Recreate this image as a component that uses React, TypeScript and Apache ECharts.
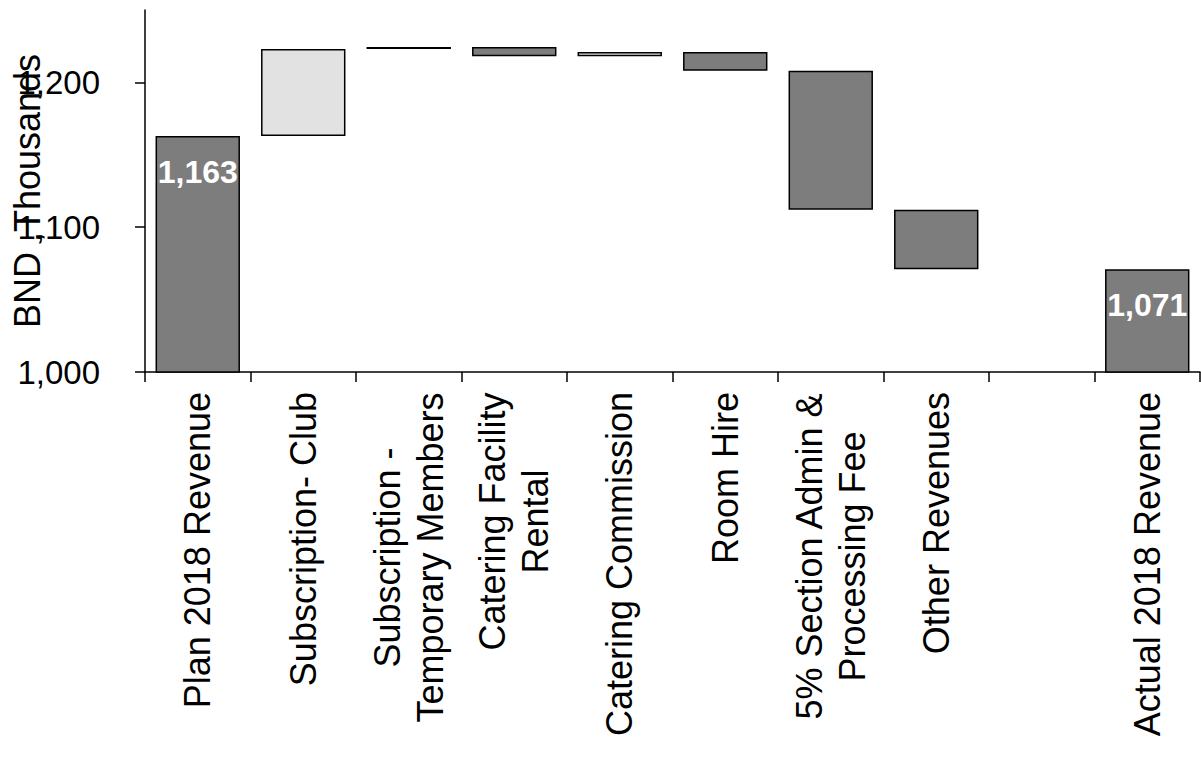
import React, { useEffect, useRef } from "react";
import * as echarts from "echarts";

const categories = [
  "Plan 2018 Revenue",
  "Subscription- Club",
  "Subscription -\nTemporary Members",
  "Catering Facility\nRental",
  "Catering Commission",
  "Room Hire",
  "5% Section Admin &\nProcessing Fee",
  "Other Revenues",
  "",
  "Actual 2018 Revenue",
];
const changes: (number | null)[] = [1163, 60, 1.5, -6.5, 3, -13, -96, -41, null, 1071];
const totalFlags = [true, false, false, false, false, false, false, false, false, true];
const yTicks = [1000, 1100, 1200];
const yAxisName = "BND ,Thousands";

const FONT = "Liberation Sans";
const LABEL_SIZE = 36;

function measure(text: string, size: number): number {
  const c = document.createElement("canvas");
  const ctx = c.getContext("2d");
  if (!ctx) return text.length * size * 0.55;
  ctx.font = `${size}px "${FONT}"`;
  return ctx.measureText(text).width;
}

export default function App() {
  const ref = useRef<HTMLDivElement>(null);
  useEffect(() => {
    if (!ref.current) return;
    const chart = echarts.init(ref.current, undefined, { renderer: "svg" });

    const base: (number | string)[] = [];
    const visible: any[] = [];
    let running = 0;
    changes.forEach((c, i) => {
      if (c === null) {
        base.push("-");
        visible.push("-");
        return;
      }
      if (totalFlags[i]) {
        running = c;
        base.push(0);
        visible.push({
          value: c,
          itemStyle: { color: "#7d7d7d" },
          label: {
            show: true,
            position: "insideTop",
            distance: 20,
            color: "#ffffff",
            fontWeight: "bold",
            fontSize: 32,
            fontFamily: FONT,
            formatter: (p: any) => Number(p.value).toLocaleString("en-US"),
          },
        });
      } else {
        const start = running;
        const end = running + c;
        running = end;
        base.push(Math.min(start, end));
        visible.push({
          value: Math.abs(c),
          itemStyle: { color: c > 0 ? "#e2e2e2" : "#7d7d7d" },
        });
      }
    });

    const rich: Record<string, any> = {};
    categories.forEach((cat, i) => {
      const lines = cat.split("\n");
      if (lines.length > 1) {
        const w = Math.max(...lines.map((l) => measure(l, LABEL_SIZE)));
        rich[`m${i}`] = {
          width: Math.ceil(w),
          align: "center",
          fontSize: LABEL_SIZE,
          fontFamily: FONT,
          color: "#000",
          lineHeight: 43,
        };
      }
    });

    chart.setOption({
      animation: false,
      grid: {
        left: 145,
        right: 1,
        top: 10,
        bottom: 388,
        containLabel: false,
        outerBoundsMode: "none",
      },
      xAxis: {
        type: "category",
        data: categories,
        axisLine: { lineStyle: { color: "#000", width: 1.5 } },
        axisTick: { show: true, length: 10, lineStyle: { color: "#000", width: 1.5 } },
        axisLabel: {
          interval: 0,
          rotate: 90,
          margin: 20,
          fontSize: LABEL_SIZE,
          fontFamily: FONT,
          color: "#000",
          lineHeight: 43,
          hideOverlap: false,
          formatter: (value: string, idx: number) => {
            const lines = value.split("\n");
            if (lines.length === 1) return value;
            return lines.map((l) => `{m${idx}|${l}}`).join("\n");
          },
          rich,
        },
      },
      yAxis: {
        type: "value",
        min: 1000,
        max: 1250,
        interval: 100,
        name: yAxisName,
        nameLocation: "middle",
        nameGap: 100,
        nameMoveOverlap: false,
        nameTextStyle: { fontSize: 36, fontFamily: FONT, color: "#000" },
        splitLine: { show: false },
        axisLine: { show: true, lineStyle: { color: "#000", width: 1.5 } },
        axisTick: {
          show: true,
          length: 10,
          customValues: yTicks,
          lineStyle: { color: "#000", width: 1.5 },
        },
        axisLabel: {
          customValues: yTicks,
          margin: 45,
          fontSize: 33,
          fontFamily: FONT,
          color: "#000",
          formatter: (v: number) => Number(v).toLocaleString("en-US"),
        },
      },
      series: [
        {
          type: "bar",
          stack: "wf",
          data: base,
          barWidth: "80%",
          itemStyle: { color: "transparent", borderWidth: 0 },
          emphasis: { disabled: true },
          silent: true,
        },
        {
          type: "bar",
          stack: "wf",
          data: visible,
          barWidth: "80%",
          itemStyle: { borderColor: "#000", borderWidth: 1.5 },
          emphasis: { disabled: true },
        },
      ],
    });
    return () => chart.dispose();
  }, []);
  return (
    <div
      ref={ref}
      style={{ position: "fixed", left: 0, top: 0, width: 1201, height: 760, background: "#fff" }}
    />
  );
}
